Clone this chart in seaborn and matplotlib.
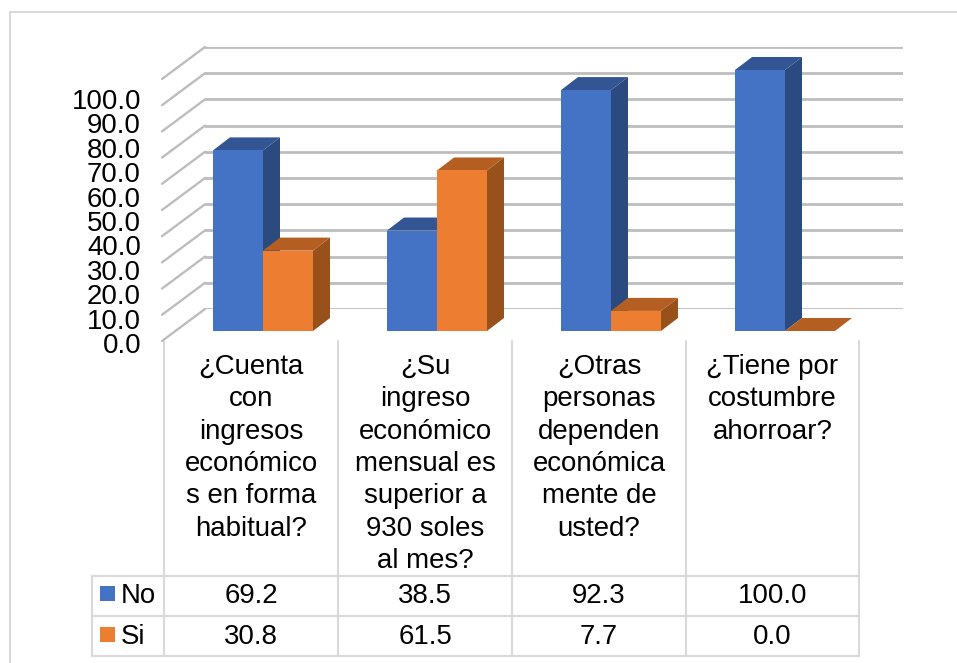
"""3D-look clustered bars with a data table below, drawn with seaborn."""

import matplotlib.pyplot as plt
import pandas as pd
import seaborn as sns
from matplotlib.patches import Polygon, Rectangle

questions = [
    ["¿Cuenta", "con", "ingresos", "económico", "s en forma", "habitual?"],
    ["¿Su", "ingreso", "económico", "mensual es", "superior a", "930 soles", "al mes?"],
    ["¿Otras", "personas", "dependen", "económica", "mente de", "usted?"],
    ["¿Tiene por", "costumbre", "ahorroar?"],
]
no_values = [69.2, 38.5, 92.3, 100.0]
si_values = [30.8, 61.5, 7.7, 0.0]
series_names = ["No", "Si"]
y_ticks = list(range(0, 101, 10))

W, H = 957, 663
FONT = 19.9
BLUE, BLUE_SIDE, BLUE_TOP = "#4472C4", "#2A4A80", "#335593"
ORANGE, ORANGE_SIDE, ORANGE_TOP = "#ED7D31", "#99511C", "#B55E22"
GRID = "#BDBDBD"
TABLE = "#D9D9D9"


def box(left, right, y_top, y_bottom):
    """Axes rectangle given in picture pixels (y pointing down)."""
    return [left / W, 1 - y_bottom / H, (right - left) / W, (y_bottom - y_top) / H]


sns.set_theme(style="white")
plt.rcParams["font.family"] = ["Liberation Sans", "DejaVu Sans"]

fig = plt.figure(figsize=(W / 100, H / 100), dpi=100, facecolor="white")

# Overlay in pixel coordinates for the frame and the table
page = fig.add_axes([0, 0, 1, 1], zorder=0)
page.set_xlim(0, W)
page.set_ylim(H, 0)
page.axis("off")
page.plot([10, 10, W], [H, 12, 12], color=TABLE, lw=1.5, clip_on=False)

col_edges = [164, 338, 512, 686, 859]
row_edges = [576, 616, 656]
for x in col_edges:
    page.plot([x, x], [341, 656], color=TABLE, lw=1.5)
page.plot([92, 92], [576, 656], color=TABLE, lw=1.5)
for y in row_edges:
    page.plot([92, 859], [y, y], color=TABLE, lw=1.5)

for i, lines in enumerate(questions):
    center = (col_edges[i] + col_edges[i + 1]) / 2
    for j, line in enumerate(lines):
        page.text(center, 374 + j * 32.3, line, ha="center", va="baseline",
                  fontsize=FONT, color="black")
    page.text(center, 603, f"{no_values[i]:.1f}", ha="center", va="baseline",
              fontsize=FONT, color="black")
    page.text(center, 644, f"{si_values[i]:.1f}", ha="center", va="baseline",
              fontsize=FONT, color="black")

for name, color, top, base in zip(series_names, [BLUE, ORANGE], [586, 627], [603, 644]):
    page.add_patch(Rectangle((100, top), 15, 15, color=color, lw=0))
    page.text(121, base, name, ha="left", va="baseline", fontsize=FONT, color="black")

# Back wall with its gridlines, and the diagonals on the side wall
wall = fig.add_axes(box(205, 903, 47, 309), zorder=1)
wall.patch.set_alpha(0)
wall.set_xlim(205, 903)
wall.set_ylim(0, 100)
sns.despine(ax=wall, left=True, bottom=True)
wall.set_xticks([])
wall.set_yticks(y_ticks)
wall.tick_params(left=False, labelleft=False)
wall.grid(axis="y", color=GRID, lw=2)
for v in y_ticks:
    wall.plot([162, 205], [v - 32 / 2.62, v], color=GRID, lw=1.7, clip_on=False)

# Value labels sit on their own, slightly tighter scale
scale = fig.add_axes(box(141, 160, 99, 343), zorder=1)
scale.patch.set_alpha(0)
scale.set_ylim(0, 100)
scale.set_xticks([])
scale.set_yticks(y_ticks)
scale.set_yticklabels([f"{v:.1f}" for v in y_ticks], fontsize=FONT, color="black",
                      va="center_baseline")
scale.tick_params(left=False, pad=0, length=0)
sns.despine(ax=scale, left=True, bottom=True)

# Bars: front faces from seaborn, side and top faces from the same patches
ax = fig.add_axes(box(176, 872, 70, 331), zorder=2)
ax.patch.set_alpha(0)
df = pd.DataFrame({
    "question": [" ".join(q) for q in questions] * 2,
    "value": no_values + si_values,
    "answer": [series_names[0]] * 4 + [series_names[1]] * 4,
})
sns.barplot(data=df, x="question", y="value", hue="answer", hue_order=series_names,
            palette=[BLUE, ORANGE], width=100 / 174, saturation=1, legend=False, ax=ax,
            zorder=3, clip_on=False, linewidth=0, edgecolor="none")
ax.set_xlim(-0.5, 3.5)
ax.set_ylim(0, 100)
ax.axis("off")

depth_x = 17 / 174
depth_y = 13 / 2.61
shades = [(BLUE_SIDE, BLUE_TOP)] * 4 + [(ORANGE_SIDE, ORANGE_TOP)] * 4
for bar, (side, top) in zip(ax.patches, shades):
    x0, x1, h = bar.get_x(), bar.get_x() + bar.get_width(), bar.get_height()
    top_face = [(x0, h), (x1, h), (x1 + depth_x, h + depth_y), (x0 + depth_x, h + depth_y)]
    side_face = [(x1, 0), (x1 + depth_x, depth_y), (x1 + depth_x, h + depth_y), (x1, h)]
    z = bar.get_zorder() - (0.5 if h > 50 else 0)
    ax.add_patch(Polygon(side_face, color=side, lw=0, zorder=z - 0.1, clip_on=False))
    ax.add_patch(Polygon(top_face, color=top, lw=0, zorder=z - 0.1, clip_on=False))

fig.savefig("out.png", dpi=100)
